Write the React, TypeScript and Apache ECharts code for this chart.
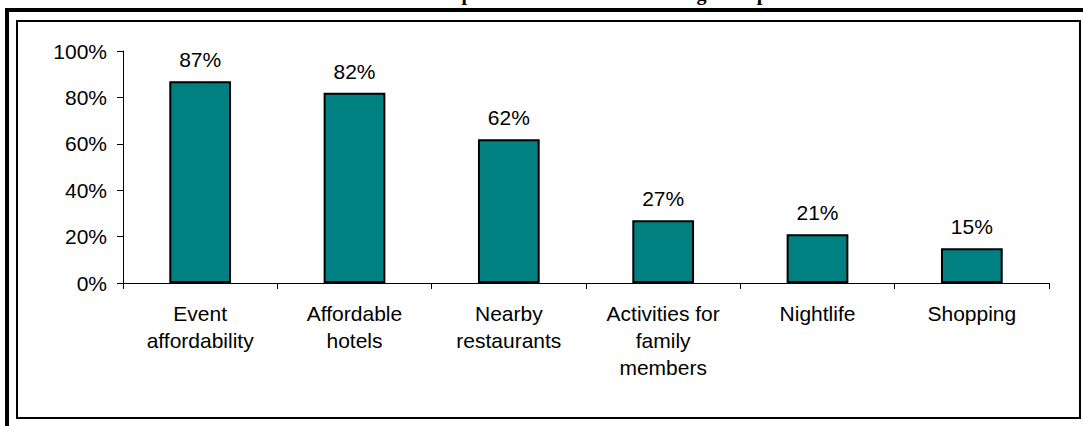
import React, { useEffect, useRef } from "react";
import * as echarts from "echarts";

const titleText = "Important Factors in Attending Group Events";
const categories = [
  "Event\naffordability",
  "Affordable\nhotels",
  "Nearby\nrestaurants",
  "Activities for\nfamily\nmembers",
  "Nightlife",
  "Shopping",
];
const values = [87, 82, 62, 27, 21, 15];
const yTicks = [0, 20, 40, 60, 80, 100];

const FONT = "'Liberation Sans', Arial, sans-serif";

export default function App() {
  const ref = useRef<HTMLDivElement>(null);
  useEffect(() => {
    if (!ref.current) return;
    const chart = echarts.init(ref.current, undefined, { renderer: "svg" });
    chart.setOption({
      animation: false,
      backgroundColor: "#ffffff",
      textStyle: { fontFamily: FONT },
      graphic: [
        {
          type: "text",
          x: 437,
          y: -7,
          style: {
            text: titleText,
            font: "bold 20px 'Liberation Serif', 'Times New Roman', serif",
            fill: "#000",
            textAlign: "left",
            textVerticalAlign: "middle",
          },
        },
        {
          type: "rect",
          shape: { x: 7, y: 10, width: 1100, height: 440 },
          style: { fill: "none", stroke: "#000", lineWidth: 4 },
        },
        {
          type: "rect",
          shape: { x: 17, y: 21, width: 1063, height: 397 },
          style: { fill: "none", stroke: "#000", lineWidth: 2 },
        },
      ],
      grid: { left: 123, right: 34, top: 51, bottom: 143, containLabel: false },
      xAxis: {
        type: "category",
        data: categories,
        axisLine: { show: true, lineStyle: { color: "#000", width: 1 } },
        axisTick: { show: true, length: 6, lineStyle: { color: "#000" } },
        axisLabel: {
          color: "#000",
          fontSize: 21,
          fontFamily: FONT,
          lineHeight: 27,
          margin: 17,
          interval: 0,
        },
      },
      yAxis: {
        type: "value",
        min: 0,
        max: 100,
        interval: 20,
        axisLine: { show: true, lineStyle: { color: "#000", width: 1 } },
        axisTick: { show: true, length: 6, lineStyle: { color: "#000" } },
        splitLine: { show: false },
        axisLabel: {
          color: "#000",
          fontSize: 21,
          fontFamily: FONT,
          margin: 16,
          formatter: (v: number) => (yTicks.includes(v) ? v + "%" : ""),
        },
      },
      series: [
        {
          type: "bar",
          data: values,
          barWidth: "40%",
          itemStyle: { color: "#008080", borderColor: "#000", borderWidth: 2 },
          label: {
            show: true,
            position: "top",
            distance: 11,
            color: "#000",
            fontSize: 21,
            fontFamily: FONT,
            formatter: "{c}%",
          },
        },
      ],
    });
    return () => chart.dispose();
  }, []);
  return (
    <div
      ref={ref}
      style={{ position: "fixed", left: 0, top: 0, width: 1083, height: 426 }}
    />
  );
}
